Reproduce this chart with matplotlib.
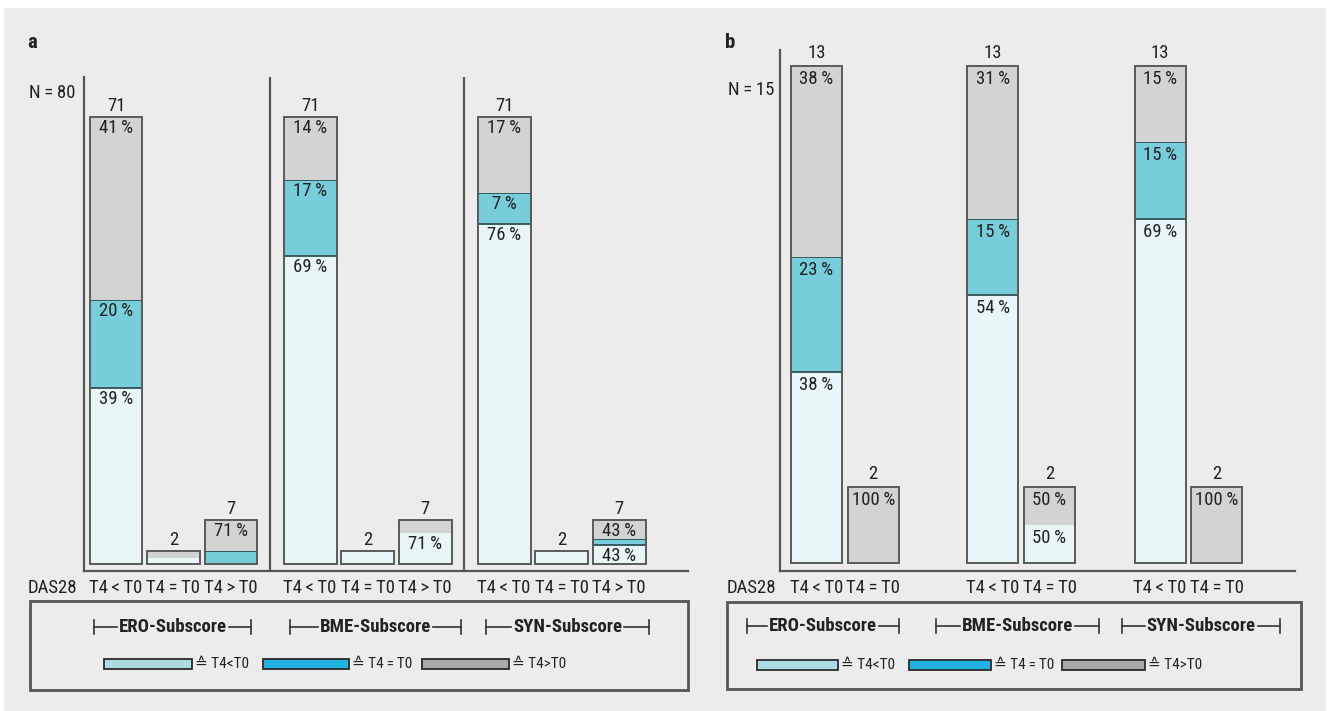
import matplotlib
matplotlib.use("Agg")
import matplotlib.pyplot as plt
from matplotlib.patches import Rectangle
from matplotlib.lines import Line2D
from matplotlib import font_manager

# ---------------- data ----------------
subscores = ["ERO-Subscore", "BME-Subscore", "SYN-Subscore"]
das_classes_a = ["T4\u2009<\u2009T0", "T4\u2009=\u2009T0", "T4\u2009>\u2009T0"]
das_classes_b = ["T4\u2009<\u2009T0", "T4\u2009=\u2009T0"]
change_labels = ["\u2259 T4<T0", "\u2259 T4\u2009=\u2009T0", "\u2259 T4>T0"]
n_total_a = 80
n_total_b = 15

# patients per subscore (rows) and DAS28 class (columns) whose subscore
# went down (T4<T0), stayed (T4=T0) or went up (T4>T0)
a_lower = [[28, 1, 0], [49, 2, 5], [54, 2, 3]]
a_equal = [[14, 0, 2], [12, 0, 0], [5, 0, 1]]
a_higher = [[29, 1, 5], [10, 0, 2], [12, 0, 3]]

b_lower = [[5, 0], [7, 1], [9, 0]]
b_equal = [[3, 0], [2, 0], [2, 0]]
b_higher = [[5, 2], [4, 1], [2, 2]]

# ---------------- style ----------------
W, H = 1330, 711
names = {f.name for f in font_manager.fontManager.ttflist}
for cand in ["Liberation Sans Narrow", "Roboto Condensed", "Open Sans Condensed", "Roboto"]:
    if cand in names:
        base = cand
        break
else:
    base = "Liberation Sans"
FAM = [base, "DejaVu Sans"]
plt.rcParams["font.family"] = FAM
plt.rcParams["text.color"] = "#222222"
FS = 13.5

seg_colors = ["#e9f6f8", "#77cdd9", "#d2d4d4"]
legend_colors = ["#a9dbe0", "#22b1e0", "#a9abab"]
line_col = "#555555"
bg = "#ececec"

fig = plt.figure(figsize=(W / 100, H / 100), dpi=100)
fig.patch.set_facecolor("white")


def px(x, y):
    return x / W, 1 - y / H


def frame_axes(left, right, bottom, top):
    ax = fig.add_axes([left / W, 1 - bottom / H, (right - left) / W, (bottom - top) / H])
    ax.set_facecolor("none")
    for s in ("top", "right"):
        ax.spines[s].set_visible(False)
    for s in ("left", "bottom"):
        ax.spines[s].set_color(line_col)
        ax.spines[s].set_linewidth(1.6)
    ax.set_yticks([])
    ax.tick_params(axis="x", length=0, pad=6, labelsize=FS, colors="#222222")
    return ax


fig.add_artist(Rectangle(px(4, H), (W - 8) / W, (H - 8) / H, transform=fig.transFigure,
                         facecolor=bg, edgecolor="none", zorder=-10))


def draw_panel(ax, lower, equal, higher, classes, group_x, width, lab_off, cnt_off):
    ppu = ax.transData.transform((0, 1))[1] - ax.transData.transform((0, 0))[1]
    ticks, ticklabels = [], []
    for g, gx in enumerate(group_x):
        for k, cls in enumerate(classes):
            x = gx + k
            ticks.append(x)
            ticklabels.append(cls)
            segs = [lower[g][k], equal[g][k], higher[g][k]]
            n = sum(segs)
            bottom = 0
            for s, val in enumerate(segs):
                if val == 0:
                    continue
                ax.bar(x, val, width, bottom=bottom, color=seg_colors[s],
                       edgecolor="#2f4f55" if s == 1 else "none",
                       linewidth=1.3, zorder=2)
                if val * ppu >= 18:
                    ax.annotate(f"{round(100 * val / n)}\u2009%", (x, bottom + val),
                                xytext=(0, -lab_off), textcoords="offset pixels",
                                ha="center", va="center", fontsize=FS, zorder=5)
                bottom += val
            ax.bar(x, n, width, fill=False, edgecolor="#5a5a5a", linewidth=1.4, zorder=3)
            ax.annotate(str(n), (x, n), xytext=(0, cnt_off), textcoords="offset pixels",
                        ha="center", va="center", fontsize=FS)
    ax.set_xticks(ticks, ticklabels)


# ---------------- panel a ----------------
ax_a = frame_axes(84, 688, 571, 77)
ppu_a = (564 - 117) / 71
ax_a.set_ylim(-7 / ppu_a, (564 - 77) / ppu_a)
pitch_a = 57.5
ax_a.set_xlim((84 - 116) / pitch_a, (688 - 116) / pitch_a)
group_x_a = [0, 3.375, 6.75]
for gx in group_x_a[1:]:
    ax_a.axvline(gx - 0.69, color=line_col, linewidth=1.6)
draw_panel(ax_a, a_lower, a_equal, a_higher, das_classes_a, group_x_a, 0.92, 11, 11)

# ---------------- panel b ----------------
ax_b = frame_axes(780, 1295, 571, 50)
ppu_b = (563 - 66) / 13
ax_b.set_ylim(-8 / ppu_b, (563 - 50) / ppu_b)
pitch_b = 56.7
ax_b.set_xlim((780 - 816.5) / pitch_b, (1295 - 816.5) / pitch_b)
group_x_b = [0, 3.11, 6.06]
draw_panel(ax_b, b_lower, b_equal, b_higher, das_classes_b, group_x_b, 0.9, 13, 13)

# ---------------- annotations ----------------
fig.text(*px(27, 42), "a", fontsize=15, fontweight="bold", ha="left", va="center")
fig.text(*px(725, 42), "b", fontsize=15, fontweight="bold", ha="left", va="center")
fig.text(*px(52, 93), "N\u2009=\u2009" + str(n_total_a), fontsize=FS, ha="center", va="center")
fig.text(*px(751, 90), "N\u2009=\u2009" + str(n_total_b), fontsize=FS, ha="center", va="center")
fig.text(*px(52, 588), "DAS28", fontsize=FS, ha="center", va="center")
fig.text(*px(751, 588), "DAS28", fontsize=FS, ha="center", va="center")

# legend frames
for (x0, y0, x1, y1) in [(30, 601, 688, 690), (727, 602, 1301, 689)]:
    fig.add_artist(Rectangle(px(x0, y1), (x1 - x0) / W, (y1 - y0) / H, transform=fig.transFigure,
                             facecolor="none", edgecolor=line_col, linewidth=2.0))

renderer = fig.canvas.get_renderer()


def bracket(x0, x1, y, label):
    t = fig.text(*px((x0 + x1) / 2, y), label, fontsize=13.5, fontweight="bold",
                 ha="center", va="center")
    bb = t.get_window_extent(renderer)
    kw = dict(transform=fig.transFigure, color="#333333", linewidth=1.2)
    for xa, xb in [(x0, bb.x0 - 2), (bb.x1 + 2, x1)]:
        fig.add_artist(Line2D([xa / W, xb / W], [1 - y / H] * 2, **kw))
    for xe in (x0, x1):
        fig.add_artist(Line2D([xe / W] * 2, [1 - (y - 7) / H, 1 - (y + 7) / H], **kw))


def legend_key(x0, x1, y, color, label):
    fig.add_artist(Rectangle(px(x0, y + 5), (x1 - x0) / W, 10 / H, transform=fig.transFigure,
                             facecolor=color, edgecolor="#2b2b2b", linewidth=1.3))
    fig.text(*px(x1 + 3, y), label, fontsize=11, ha="left", va="center")


for (x0, x1), lab in zip([(94, 251), (290, 461), (486, 649)], subscores):
    bracket(x0, x1, 627, lab)
for (x0, x1), lab in zip([(747, 899), (936, 1099), (1122, 1280)], subscores):
    bracket(x0, x1, 626, lab)

for (x0, x1), col, lab in zip([(104, 192), (263, 349), (422, 509)], legend_colors, change_labels):
    legend_key(x0, x1, 664, col, lab)
for (x0, x1), col, lab in zip([(757, 838), (909, 991), (1062, 1145)], legend_colors, change_labels):
    legend_key(x0, x1, 665, col, lab)

fig.savefig("out.png", dpi=100, facecolor=fig.get_facecolor())
